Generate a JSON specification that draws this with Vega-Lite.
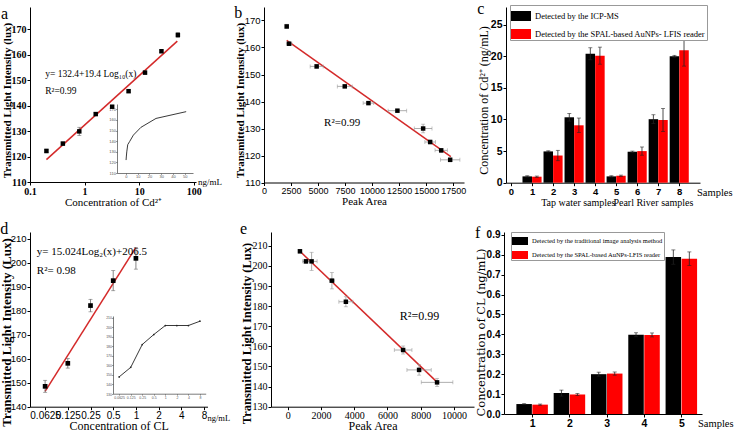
{
  "$schema": "https://vega.github.io/schema/vega-lite/v6.json",
  "background": "white",
  "padding": {"left": 0, "top": 0, "right": 0, "bottom": 0},
  "config": {
    "view": {"stroke": null},
    "axis": {"grid": false, "domainColor": "#000", "tickColor": "#000", "labelColor": "#000", "titleColor": "#000", "tickSize": 3, "labelPadding": 1, "titlePadding": 0, "labelFont": "Liberation Sans", "labelFontSize": 9, "labelFontWeight": "normal", "titleFont": "Liberation Serif", "titleFontSize": 12, "titleFontWeight": "normal", "domainWidth": 1, "tickWidth": 1, "labelOverlap": false, "labelFlush": false},
    "title": {"font": "Liberation Serif", "fontSize": 16, "fontWeight": "normal", "anchor": "start", "frame": "bounds", "baseline": "bottom", "color": "#000"},
    "legend": {"titleFont": "Liberation Serif", "labelFont": "Liberation Serif", "labelColor": "#000"}
  },
  "datasets": {
    "a_pts": [
      {"conc": 0.2, "lux": 122.2, "err": 0.7},
      {"conc": 0.4, "lux": 125.1, "err": 0.6},
      {"conc": 0.8, "lux": 129.9, "err": 1.6},
      {"conc": 1.6, "lux": 136.7, "err": 0.5},
      {"conc": 3.2, "lux": 139.6, "err": 0.5},
      {"conc": 6.4, "lux": 145.7, "err": 0.5},
      {"conc": 12.8, "lux": 153.0, "err": 0.6},
      {"conc": 25.6, "lux": 161.4, "err": 0.5},
      {"conc": 51.2, "lux": 167.8, "err": 0.9}
    ],
    "a_fit": [{"conc": 0.2, "lux": 118.8}, {"conc": 50, "lux": 165.4}],
    "a_txt": [
      {"conc": 0.19, "lux": 152.3, "t": "y= 132.4+19.4 Log₁₀(x)"},
      {"conc": 0.19, "lux": 145.8, "t": "R²=0.99"}
    ],
    "a_unit": [{"conc": 110, "lux": 110, "t": "ng/mL"}],
    "b_pts": [
      {"area": 2100, "aerr": 150, "lux": 167.8, "lerr": 0.8},
      {"area": 2320, "aerr": 250, "lux": 161.4, "lerr": 0.6},
      {"area": 4870, "aerr": 600, "lux": 153.0, "lerr": 0.7},
      {"area": 7470, "aerr": 690, "lux": 145.6, "lerr": 0.5},
      {"area": 9660, "aerr": 490, "lux": 139.4, "lerr": 0.5},
      {"area": 12340, "aerr": 860, "lux": 136.6, "lerr": 0.5},
      {"area": 14720, "aerr": 820, "lux": 130.0, "lerr": 1.6},
      {"area": 15370, "aerr": 490, "lux": 125.0, "lerr": 0.7},
      {"area": 16390, "aerr": 570, "lux": 121.9, "lerr": 0.7},
      {"area": 17220, "aerr": 900, "lux": 118.4, "lerr": 0.7}
    ],
    "b_fit": [{"area": 2100, "lux": 162.6}, {"area": 17280, "lux": 119.6}],
    "b_txt": [{"area": 5555, "lux": 132.2, "t": "R²=0.99"}],
    "c_bars": [
      {"s": 1, "m": "Detected by the ICP-MS", "v": 1.0, "e": 0.1},
      {"s": 2, "m": "Detected by the ICP-MS", "v": 4.95, "e": 0.1},
      {"s": 3, "m": "Detected by the ICP-MS", "v": 10.35, "e": 0.6},
      {"s": 4, "m": "Detected by the ICP-MS", "v": 20.4, "e": 0.95},
      {"s": 5, "m": "Detected by the ICP-MS", "v": 1.0, "e": 0.1},
      {"s": 6, "m": "Detected by the ICP-MS", "v": 4.9, "e": 0.1},
      {"s": 7, "m": "Detected by the ICP-MS", "v": 10.05, "e": 0.7},
      {"s": 8, "m": "Detected by the ICP-MS", "v": 20.0, "e": 0.15},
      {"s": 1, "m": "Detected by the SPAL-based AuNPs- LFIS reader", "v": 0.95, "e": 0.1},
      {"s": 2, "m": "Detected by the SPAL-based AuNPs- LFIS reader", "v": 4.3, "e": 0.82},
      {"s": 3, "m": "Detected by the SPAL-based AuNPs- LFIS reader", "v": 9.08, "e": 1.15},
      {"s": 4, "m": "Detected by the SPAL-based AuNPs- LFIS reader", "v": 20.1, "e": 1.35},
      {"s": 5, "m": "Detected by the SPAL-based AuNPs- LFIS reader", "v": 1.1, "e": 0.1},
      {"s": 6, "m": "Detected by the SPAL-based AuNPs- LFIS reader", "v": 5.0, "e": 0.65},
      {"s": 7, "m": "Detected by the SPAL-based AuNPs- LFIS reader", "v": 9.92, "e": 1.82},
      {"s": 8, "m": "Detected by the SPAL-based AuNPs- LFIS reader", "v": 20.95, "e": 2.5}
    ],
    "c_axis_txt": [{"s": 8.75, "v": 0, "t": "Samples"}],
    "c_group_txt": [
      {"s": 3.2, "v": 0, "t": "Tap water samples"},
      {"s": 6.77, "v": 0, "t": "Pearl River samples"}
    ],
    "d_pts": [
      {"conc": 0.0625, "lux": 148.5, "err": 2.5},
      {"conc": 0.125, "lux": 158.1, "err": 2.0},
      {"conc": 0.25, "lux": 182.2, "err": 2.6},
      {"conc": 0.5, "lux": 192.6, "err": 4.2},
      {"conc": 1, "lux": 201.9, "err": 4.5}
    ],
    "d_fit": [{"conc": 0.0625, "lux": 146.4}, {"conc": 1, "lux": 206.5}],
    "d_txt": [
      {"conc": 0.0486, "lux": 204.6, "t": "y= 15.024Log₂(x)+206.5"},
      {"conc": 0.0486, "lux": 196.8, "t": "R²= 0.98"}
    ],
    "d_unit": [{"conc": 8.9, "lux": 140, "t": "ng/mL"}],
    "d_inset": [
      {"c": "0.0625", "lux": 148},
      {"c": "0.125", "lux": 158},
      {"c": "0.25", "lux": 182},
      {"c": "0.5", "lux": 192.5},
      {"c": "1", "lux": 202},
      {"c": "2", "lux": 202},
      {"c": "4", "lux": 202},
      {"c": "8", "lux": 206.5}
    ],
    "e_pts": [
      {"area": 740, "aerr": 100, "lux": 207.3, "lerr": 0.8},
      {"area": 1100, "aerr": 200, "lux": 202.3, "lerr": 1.0},
      {"area": 1440, "aerr": 330, "lux": 202.3, "lerr": 4.5},
      {"area": 2660, "aerr": 150, "lux": 192.7, "lerr": 4.1},
      {"area": 3500, "aerr": 420, "lux": 182.2, "lerr": 2.5},
      {"area": 6940, "aerr": 530, "lux": 158.2, "lerr": 2.0},
      {"area": 7900, "aerr": 730, "lux": 148.3, "lerr": 2.6},
      {"area": 8980, "aerr": 950, "lux": 142.1, "lerr": 2.0}
    ],
    "e_fit": [{"area": 740, "lux": 207.3}, {"area": 9060, "lux": 141.6}],
    "e_txt": [{"area": 6740, "lux": 175.3, "t": "R²=0.99"}],
    "f_bars": [
      {"s": 1, "m": "Detected by the traditional image analysis method", "v": 0.05, "e": 0.002},
      {"s": 2, "m": "Detected by the traditional image analysis method", "v": 0.105, "e": 0.015},
      {"s": 3, "m": "Detected by the traditional image analysis method", "v": 0.2, "e": 0.01},
      {"s": 4, "m": "Detected by the traditional image analysis method", "v": 0.398, "e": 0.01},
      {"s": 5, "m": "Detected by the traditional image analysis method", "v": 0.788, "e": 0.036},
      {"s": 1, "m": "Detected by the SPAL-based  AuNPs-LFIS reader", "v": 0.047, "e": 0.003},
      {"s": 2, "m": "Detected by the SPAL-based  AuNPs-LFIS reader", "v": 0.098, "e": 0.005},
      {"s": 3, "m": "Detected by the SPAL-based  AuNPs-LFIS reader", "v": 0.203, "e": 0.008},
      {"s": 4, "m": "Detected by the SPAL-based  AuNPs-LFIS reader", "v": 0.397, "e": 0.01},
      {"s": 5, "m": "Detected by the SPAL-based  AuNPs-LFIS reader", "v": 0.78, "e": 0.034}
    ],
    "f_axis_txt": [{"s": 5.42, "v": 0, "t": "Samples"}]
  },
  "spacing": 13,
  "resolve": {"scale": {"color": "independent"}},
  "vconcat": [
    {
      "spacing": 12,
      "resolve": {"scale": {"color": "independent"}},
      "hconcat": [
        {
          "width": 166, "height": 175,
          "title": {"text": "a", "offset": -15},
          "layer": [
            {
              "encoding": {
                "x": {"field": "conc", "type": "quantitative", "scale": {"type": "log", "domain": [0.1, 110], "nice": false}, "axis": {"values": [0.1, 1, 10, 100], "format": "~g", "labelOverlap": false, "title": "Concentration of Cd²⁺", "titleFontSize": 11, "labelFont": "Liberation Sans Narrow", "labelFontSize": 10, "labelFontWeight": "bold"}},
                "y": {"field": "lux", "type": "quantitative", "scale": {"domain": [110, 178.8], "nice": false, "zero": false}, "axis": {"values": [110, 120, 130, 140, 150, 160, 170], "labelOverlap": false, "title": "Transmitted Light Intensity (lux)", "titleY": 93, "titleFontWeight": "bold", "titleFontSize": 11, "titlePadding": -1, "labelFont": "Liberation Sans Narrow", "labelFontSize": 10, "labelFontWeight": "bold"}}
              },
              "layer": [
                {"data": {"name": "a_fit"}, "mark": {"type": "line", "color": "#d42a2a", "strokeWidth": 1.5}},
                {"data": {"name": "a_pts"}, "mark": {"type": "errorbar", "color": "#666", "thickness": 0.8, "ticks": {"size": 4}},
                 "encoding": {"yError": {"field": "err"}}},
                {"data": {"name": "a_pts"}, "mark": {"type": "square", "color": "#000", "opacity": 1, "size": 20}},
                {"data": {"name": "a_txt"}, "mark": {"type": "text", "align": "left", "baseline": "middle", "font": "Liberation Serif", "fontSize": 9.5},
                 "encoding": {"text": {"field": "t"}}},
                {"data": {"name": "a_unit"}, "mark": {"type": "text", "align": "left", "baseline": "middle", "font": "Liberation Serif", "fontSize": 9, "dx": 2},
                 "encoding": {"text": {"field": "t"}}}
              ]
            },
            {"data": {"name": "a_pts"}, "mark": {"type": "line", "color": "#222", "strokeWidth": 0.9},
             "encoding": {
               "x": {"field": "conc", "type": "quantitative", "scale": {"domain": [-7.5, 57], "range": [87, 163], "nice": false, "zero": false}, "axis": {"orient": "bottom", "offset": -9, "values": [0, 10, 20, 30, 40, 50], "labelOverlap": false, "title": null, "labelFontSize": 4, "tickSize": 1.5, "labelPadding": 0, "domainWidth": 0.7, "tickWidth": 0.5, "domainColor": "#444", "tickColor": "#444", "labelColor": "#555"}},
               "y": {"field": "lux", "type": "quantitative", "scale": {"domain": [110, 175], "range": [166, 97], "nice": false, "zero": false}, "axis": {"orient": "left", "offset": -87, "values": [110, 120, 130, 140, 150, 160, 170], "labelOverlap": false, "title": null, "labelFontSize": 4, "tickSize": 1.5, "labelPadding": 0, "domainWidth": 0.7, "tickWidth": 0.5, "domainColor": "#444", "tickColor": "#444", "labelColor": "#555"}}
             }}
          ],
          "resolve": {"scale": {"x": "independent", "y": "independent"}}
        },
        {
          "spacing": 11,
          "resolve": {"scale": {"color": "independent"}},
          "hconcat": [
            {
              "width": 200, "height": 175.5,
              "title": {"text": "b", "offset": -14},
              "encoding": {
                "x": {"field": "area", "type": "quantitative", "scale": {"domain": [0, 18500], "nice": false}, "axis": {"values": [0, 2500, 5000, 7500, 10000, 12500, 15000, 17500], "labelOverlap": false, "format": "d", "title": "Peak Area", "titleFontSize": 11, "labelFontSize": 9}},
                "y": {"field": "lux", "type": "quantitative", "scale": {"domain": [110, 175], "nice": false, "zero": false}, "axis": {"values": [110, 120, 130, 140, 150, 160, 170], "labelOverlap": false, "title": "Transmitted Light Intensity (lux)", "titleY": 93, "titleFontWeight": "bold", "titleFontSize": 11, "titlePadding": -1, "labelFontSize": 9.5}}
              },
              "layer": [
                {"data": {"name": "b_fit"}, "mark": {"type": "line", "color": "#d42a2a", "strokeWidth": 1.5}},
                {"data": {"name": "b_pts"}, "mark": {"type": "errorbar", "color": "#999", "thickness": 0.8, "ticks": {"size": 4}},
                 "encoding": {"xError": {"field": "aerr"}}},
                {"data": {"name": "b_pts"}, "mark": {"type": "errorbar", "color": "#999", "thickness": 0.8, "ticks": {"size": 4}},
                 "encoding": {"yError": {"field": "lerr"}}},
                {"data": {"name": "b_pts"}, "mark": {"type": "square", "color": "#000", "opacity": 1, "size": 20}},
                {"data": {"name": "b_txt"}, "mark": {"type": "text", "align": "left", "baseline": "middle", "font": "Liberation Serif", "fontSize": 11},
                 "encoding": {"text": {"field": "t"}}}
              ]
            },
            {
              "width": 194, "height": 175.7,
              "title": {"text": "c", "offset": -12},
              "encoding": {
                "x": {"field": "s", "type": "quantitative", "scale": {"domain": [0, 8.75], "nice": false}, "axis": {"values": [0, 1, 2, 3, 4, 5, 6, 7, 8], "labelOverlap": false, "format": "d", "title": null, "labelFontSize": 9.5, "labelFontWeight": "bold"}},
                "y": {"field": "v", "type": "quantitative", "scale": {"domain": [0, 27.8], "nice": false}, "axis": {"values": [0, 5, 10, 15, 20, 25], "labelOverlap": false, "title": "Concentration of Cd²⁺ (ng/mL)", "titleY": 93, "labelFontSize": 10.5, "labelFontWeight": "bold"}}
              },
              "layer": [
                {"data": {"name": "c_bars"}, "transform": [{"filter": "datum.m === 'Detected by the ICP-MS'"}], "mark": {"type": "bar", "size": 9.5, "xOffset": -4.8},
                 "encoding": {
                   "color": {"field": "m", "type": "nominal", "scale": {"domain": ["Detected by the ICP-MS", "Detected by the SPAL-based AuNPs- LFIS reader"], "range": ["#000000", "#ff0000"]},
                     "legend": {"title": null, "orient": "none", "legendX": 4, "legendY": -2, "direction": "vertical", "symbolType": "M-1,-0.5H1V0.5H-1Z", "symbolSize": 400, "symbolStrokeWidth": 0, "symbolOpacity": 1, "labelFontSize": 8.5, "labelLimit": 300, "strokeColor": "#999", "fillColor": "white", "padding": 1, "rowPadding": 3, "offset": 0}}
                 }},
                {"data": {"name": "c_bars"}, "transform": [{"filter": "datum.m !== 'Detected by the ICP-MS'"}], "mark": {"type": "bar", "size": 9.5, "xOffset": 4.8},
                 "encoding": {"color": {"field": "m", "type": "nominal", "scale": {"domain": ["Detected by the ICP-MS", "Detected by the SPAL-based AuNPs- LFIS reader"], "range": ["#000000", "#ff0000"]},
                     "legend": {"title": null, "orient": "none", "legendX": 4, "legendY": -2, "direction": "vertical", "symbolType": "M-1,-0.5H1V0.5H-1Z", "symbolSize": 400, "symbolStrokeWidth": 0, "symbolOpacity": 1, "labelFontSize": 8.5, "labelLimit": 300, "strokeColor": "#999", "fillColor": "white", "padding": 1, "rowPadding": 3, "offset": 0}}}},
                {"data": {"name": "c_bars"}, "transform": [{"filter": "datum.m === 'Detected by the ICP-MS'"}], "mark": {"type": "errorbar", "color": "#222", "thickness": 0.8, "ticks": {"size": 4, "xOffset": -4.8}, "rule": {"xOffset": -4.8}},
                 "encoding": {"yError": {"field": "e"}}},
                {"data": {"name": "c_bars"}, "transform": [{"filter": "datum.m !== 'Detected by the ICP-MS'"}], "mark": {"type": "errorbar", "color": "#222", "thickness": 0.8, "ticks": {"size": 4, "xOffset": 4.8}, "rule": {"xOffset": 4.8}},
                 "encoding": {"yError": {"field": "e"}}},
                {"data": {"name": "c_axis_txt"}, "mark": {"type": "text", "align": "left", "baseline": "middle", "font": "Liberation Serif", "fontSize": 10.5, "dx": 2, "dy": 10},
                 "encoding": {"text": {"field": "t"}}},
                {"data": {"name": "c_group_txt"}, "mark": {"type": "text", "align": "center", "baseline": "middle", "font": "Liberation Serif", "fontSize": 10, "dy": 20},
                 "encoding": {"text": {"field": "t"}}}
              ]
            }
          ]
        }
      ]
    },
    {
      "spacing": 9,
      "resolve": {"scale": {"color": "independent"}},
      "hconcat": [
        {
          "width": 177.5, "height": 174.7,
          "title": {"text": "d", "offset": -5},
          "layer": [
            {
              "encoding": {
                "x": {"field": "conc", "type": "quantitative", "scale": {"type": "log", "base": 2, "domain": [0.0394, 8.9], "nice": false}, "axis": {"values": [0.0625, 0.125, 0.25, 0.5, 1, 2, 4, 8], "labelOverlap": false, "format": "~g", "title": "Concentration of CL", "labelFontSize": 10}},
                "y": {"field": "lux", "type": "quantitative", "scale": {"domain": [140, 212.9], "nice": false, "zero": false}, "axis": {"values": [140, 150, 160, 170, 180, 190, 200, 210], "labelOverlap": false, "title": "Transmitted Light Intensity (Lux)", "titleY": 100, "titleFontSize": 13, "titleFontWeight": "bold", "titlePadding": -3, "labelFontSize": 9.5}}
              },
              "layer": [
                {"data": {"name": "d_fit"}, "mark": {"type": "line", "color": "#d42a2a", "strokeWidth": 1.5}},
                {"data": {"name": "d_pts"}, "mark": {"type": "errorbar", "color": "#666", "thickness": 0.8, "ticks": {"size": 4}},
                 "encoding": {"yError": {"field": "err"}}},
                {"data": {"name": "d_pts"}, "mark": {"type": "square", "color": "#000", "opacity": 1, "size": 22}},
                {"data": {"name": "d_txt"}, "mark": {"type": "text", "align": "left", "baseline": "middle", "font": "Liberation Serif", "fontSize": 11},
                 "encoding": {"text": {"field": "t"}}},
                {"data": {"name": "d_unit"}, "mark": {"type": "text", "align": "left", "baseline": "middle", "font": "Liberation Serif", "fontSize": 8.5, "dy": 11},
                 "encoding": {"text": {"field": "t"}}}
              ]
            },
            {"data": {"name": "d_inset"}, "mark": {"type": "line", "color": "#222", "strokeWidth": 0.9, "point": {"size": 3, "color": "#222"}},
             "encoding": {
               "x": {"field": "c", "type": "ordinal", "scale": {"type": "point", "domain": ["0.0625", "0.125", "0.25", "0.5", "1", "2", "4", "8"], "range": [83.4, 175.7], "padding": 0.5}, "axis": {"orient": "bottom", "offset": -13, "labelOverlap": false, "title": null, "labelAngle": 0, "labelFontSize": 3.5, "tickSize": 1.5, "labelPadding": 0, "domainWidth": 0.7, "tickWidth": 0.5, "domainColor": "#444", "tickColor": "#444", "labelColor": "#555"}},
               "y": {"field": "lux", "type": "quantitative", "scale": {"domain": [130, 212], "range": [162, 84], "nice": false, "zero": false}, "axis": {"orient": "left", "offset": -83, "values": [130, 140, 150, 160, 170, 180, 190, 200, 210], "labelOverlap": false, "title": null, "labelFontSize": 3.5, "tickSize": 1.5, "labelPadding": 0, "domainWidth": 0.7, "tickWidth": 0.5, "domainColor": "#444", "tickColor": "#444", "labelColor": "#555"}}
             }}
          ],
          "resolve": {"scale": {"x": "independent", "y": "independent"}}
        },
        {
          "spacing": 1,
          "resolve": {"scale": {"color": "independent"}},
          "hconcat": [
            {
              "width": 203, "height": 174.7,
              "title": {"text": "e", "offset": -5},
              "encoding": {
                "x": {"field": "area", "type": "quantitative", "scale": {"domain": [-1000, 11200], "nice": false, "zero": false}, "axis": {"values": [0, 2000, 4000, 6000, 8000, 10000], "labelOverlap": false, "format": "d", "title": "Peak Area", "titleFontSize": 12, "labelFont": "Liberation Serif", "labelFontSize": 10}},
                "y": {"field": "lux", "type": "quantitative", "scale": {"domain": [130, 216.9], "nice": false, "zero": false}, "axis": {"values": [130, 140, 150, 160, 170, 180, 190, 200, 210], "labelOverlap": false, "title": "Transmitted Light Intensity (Lux)", "titleY": 101, "titleFontSize": 12.5, "titleFontWeight": "bold", "titlePadding": -1, "labelFont": "Liberation Serif", "labelFontSize": 10}}
              },
              "layer": [
                {"data": {"name": "e_fit"}, "mark": {"type": "line", "color": "#d42a2a", "strokeWidth": 1.5}},
                {"data": {"name": "e_pts"}, "mark": {"type": "errorbar", "color": "#999", "thickness": 0.8, "ticks": {"size": 4}},
                 "encoding": {"xError": {"field": "aerr"}}},
                {"data": {"name": "e_pts"}, "mark": {"type": "errorbar", "color": "#999", "thickness": 0.8, "ticks": {"size": 4}},
                 "encoding": {"yError": {"field": "lerr"}}},
                {"data": {"name": "e_pts"}, "mark": {"type": "square", "color": "#000", "opacity": 1, "size": 20}},
                {"data": {"name": "e_txt"}, "mark": {"type": "text", "align": "left", "baseline": "middle", "font": "Liberation Serif", "fontSize": 12},
                 "encoding": {"text": {"field": "t"}}}
              ]
            },
            {
              "width": 198, "height": 182,
              "title": {"text": "f", "offset": -11},
              "encoding": {
                "x": {"field": "s", "type": "quantitative", "scale": {"domain": [0.38, 5.42], "nice": false, "zero": false}, "axis": {"values": [1, 2, 3, 4, 5], "labelOverlap": false, "format": "d", "title": null, "labelFontSize": 10.5, "labelFontWeight": "bold"}},
                "y": {"field": "v", "type": "quantitative", "scale": {"domain": [0, 0.914], "nice": false}, "axis": {"values": [0, 0.1, 0.2, 0.3, 0.4, 0.5, 0.6, 0.7, 0.8, 0.9], "labelExpr": "format(datum.value, '.1f')", "title": "Concentration of CL (ng/mL)", "titleY": 100, "titleFont": "DejaVu Serif", "titleFontSize": 11.5, "labelFontSize": 10, "labelFontWeight": "bold"}}
              },
              "layer": [
                {"data": {"name": "f_bars"}, "transform": [{"filter": "datum.m === 'Detected by the traditional image analysis method'"}], "mark": {"type": "bar", "size": 15.5, "xOffset": -8},
                 "encoding": {
                   "color": {"field": "m", "type": "nominal", "scale": {"domain": ["Detected by the traditional image analysis method", "Detected by the SPAL-based  AuNPs-LFIS reader"], "range": ["#000000", "#ff0000"]},
                     "legend": {"title": null, "orient": "none", "legendX": 7, "legendY": 0, "direction": "vertical", "symbolType": "M-1,-0.5H1V0.5H-1Z", "symbolSize": 256, "symbolStrokeWidth": 0, "symbolOpacity": 1, "labelFontSize": 6.5, "labelLimit": 300, "strokeColor": "#999", "fillColor": "white", "padding": 1, "rowPadding": 2, "offset": 0}}
                 }},
                {"data": {"name": "f_bars"}, "transform": [{"filter": "datum.m !== 'Detected by the traditional image analysis method'"}], "mark": {"type": "bar", "size": 15.5, "xOffset": 8},
                 "encoding": {
                   "color": {"field": "m", "type": "nominal", "scale": {"domain": ["Detected by the traditional image analysis method", "Detected by the SPAL-based  AuNPs-LFIS reader"], "range": ["#000000", "#ff0000"]},
                     "legend": {"title": null, "orient": "none", "legendX": 7, "legendY": 0, "direction": "vertical", "symbolType": "M-1,-0.5H1V0.5H-1Z", "symbolSize": 256, "symbolStrokeWidth": 0, "symbolOpacity": 1, "labelFontSize": 6.5, "labelLimit": 300, "strokeColor": "#999", "fillColor": "white", "padding": 1, "rowPadding": 2, "offset": 0}}
                 }},
                {"data": {"name": "f_bars"}, "transform": [{"filter": "datum.m === 'Detected by the traditional image analysis method'"}], "mark": {"type": "errorbar", "color": "#222", "thickness": 0.8, "ticks": {"size": 4, "xOffset": -8}, "rule": {"xOffset": -8}},
                 "encoding": {"yError": {"field": "e"}}},
                {"data": {"name": "f_bars"}, "transform": [{"filter": "datum.m !== 'Detected by the traditional image analysis method'"}], "mark": {"type": "errorbar", "color": "#222", "thickness": 0.8, "ticks": {"size": 4, "xOffset": 8}, "rule": {"xOffset": 8}},
                 "encoding": {"yError": {"field": "e"}}},
                {"data": {"name": "f_axis_txt"}, "mark": {"type": "text", "align": "left", "baseline": "middle", "font": "Liberation Serif", "fontSize": 10.5, "dx": 1, "dy": 10},
                 "encoding": {"text": {"field": "t"}}}
              ]
            }
          ]
        }
      ]
    }
  ]
}
